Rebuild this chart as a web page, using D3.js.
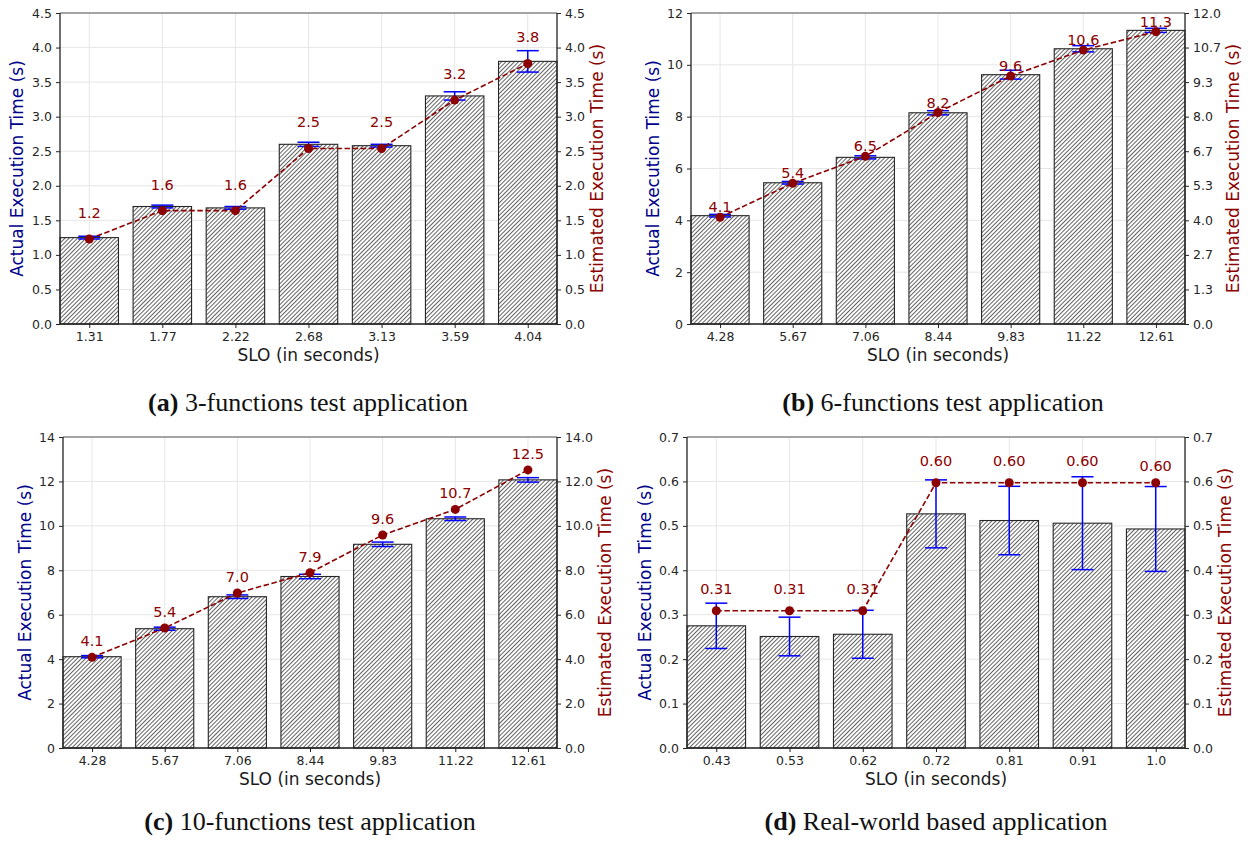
<!DOCTYPE html>
<html>
<head>
<meta charset="utf-8">
<script src="https://cdn.jsdelivr.net/npm/d3@7"></script>
<style>
  html, body { margin: 0; padding: 0; background: #fff; }
  svg { display: block; }
</style>
</head>
<body>
<svg id="fig" width="1250" height="845"></svg>
<script>
// ---- data: SLO categories, measured (actual) times with spread, estimated times ----
const sloA = ["1.31", "1.77", "2.22", "2.68", "3.13", "3.59", "4.04"];
const actualA = [1.25, 1.70, 1.68, 2.60, 2.58, 3.30, 3.80];
const errA = [0.02, 0.02, 0.02, 0.03, 0.02, 0.06, 0.155];
const estA = [1.23, 1.64, 1.64, 2.54, 2.54, 3.24, 3.77];

const sloB = ["4.28", "5.67", "7.06", "8.44", "9.83", "11.22", "12.61"];
const actualB = [4.18, 5.45, 6.43, 8.15, 9.62, 10.62, 11.33];
const errB = [0.05, 0.05, 0.06, 0.08, 0.17, 0.12, 0.08];
const estB = [4.12, 5.43, 6.47, 8.16, 9.57, 10.57, 11.28];

const sloC = ["4.28", "5.67", "7.06", "8.44", "9.83", "11.22", "12.61"];
const actualC = [4.11, 5.37, 6.81, 7.72, 9.17, 10.32, 12.07];
const errC = [0.05, 0.07, 0.08, 0.10, 0.10, 0.08, 0.10];
const estC = [4.08, 5.40, 6.98, 7.89, 9.59, 10.74, 12.52];

const sloD = ["0.43", "0.53", "0.62", "0.72", "0.81", "0.91", "1.0"];
const actualD = [0.275, 0.251, 0.256, 0.527, 0.512, 0.506, 0.493];
const errD = [0.051, 0.0435, 0.054, 0.0765, 0.077, 0.1045, 0.0955];
const estD = [0.309, 0.309, 0.309, 0.597, 0.597, 0.597, 0.597];

// tick values for both vertical axes
const leftTicksA = [0, 0.5, 1, 1.5, 2, 2.5, 3, 3.5, 4, 4.5];
const rightTicksA = [0, 0.5, 1, 1.5, 2, 2.5, 3, 3.5, 4, 4.5];
const leftTicksB = [0, 2, 4, 6, 8, 10, 12];
const rightTicksB = [0, 12 / 9, 24 / 9, 4, 48 / 9, 60 / 9, 8, 84 / 9, 96 / 9, 12];
const leftTicksC = [0, 2, 4, 6, 8, 10, 12, 14];
const rightTicksC = [0, 2, 4, 6, 8, 10, 12, 14];
const leftTicksD = [0, 0.1, 0.2, 0.3, 0.4, 0.5, 0.6, 0.7];
const rightTicksD = [0, 0.1, 0.2, 0.3, 0.4, 0.5, 0.6, 0.7];

const captionsText = [
  ["(a)", " 3-functions test application"],
  ["(b)", " 6-functions test application"],
  ["(c)", " 10-functions test application"],
  ["(d)", " Real-world based application"]
];

// ---- layout of the four panels ----
const panels = [
  { slo: sloA, actual: actualA, err: errA, est: estA, yMax: 4.5,
    lt: leftTicksA, lf: ".1f", rt: rightTicksA, rf: ".1f", vf: ".1f",
    left: 60, right: 557, top: 13, bottom: 324, lblL: 17, lblR: 597, lift: 21, cap: [308, 411], caption: captionsText[0] },
  { slo: sloB, actual: actualB, err: errB, est: estB, yMax: 12,
    lt: leftTicksB, lf: "d", rt: rightTicksB, rf: ".1f", vf: ".1f",
    left: 691, right: 1185, top: 13, bottom: 324, lblL: 653, lblR: 1233, lift: 5, cap: [943, 411], caption: captionsText[1] },
  { slo: sloC, actual: actualC, err: errC, est: estC, yMax: 14,
    lt: leftTicksC, lf: "d", rt: rightTicksC, rf: ".1f", vf: ".1f",
    left: 63, right: 557, top: 437, bottom: 748, lblL: 25, lblR: 605, lift: 11, cap: [310, 830], caption: captionsText[2] },
  { slo: sloD, actual: actualD, err: errD, est: estD, yMax: 0.7,
    lt: leftTicksD, lf: ".1f", rt: rightTicksD, rf: ".1f", vf: ".2f",
    left: 687, right: 1185, top: 437, bottom: 748, lblL: 645, lblR: 1225, lift: 17, liftLast: 12, cap: [936, 830], caption: captionsText[3] }
];

const svg = d3.select("#fig");
const FONT = "'DejaVu Sans', sans-serif";
const RED = "#8b0000";
const BLUE = "#0000ff";

// diagonal hatch used to fill the bars
const defs = svg.append("defs");
const hatch = defs.append("pattern")
  .attr("id", "hatch")
  .attr("patternUnits", "userSpaceOnUse")
  .attr("width", 2.97).attr("height", 8)
  .attr("patternTransform", "rotate(45)");
hatch.append("rect").attr("width", 2.97).attr("height", 8).attr("fill", "#fff");
hatch.append("line")
  .attr("x1", 0.5).attr("y1", 0).attr("x2", 0.5).attr("y2", 8)
  .attr("stroke", "#3c3c3c").attr("stroke-width", 0.8);

panels.forEach(p => {
  const g = svg.append("g");
  const n = p.slo.length;
  const x = d3.scaleLinear().domain([-0.4, n - 0.6]).range([p.left, p.right]);
  const y = d3.scaleLinear().domain([0, p.yMax]).range([p.bottom, p.top]);
  const idx = d3.range(n);
  const bw = x(0.8) - x(0);

  // grid
  g.append("g").selectAll("line.h").data(p.lt).join("line")
    .attr("x1", p.left).attr("x2", p.right)
    .attr("y1", d => y(d)).attr("y2", d => y(d))
    .attr("stroke", "#e6e6e6").attr("stroke-width", 1);
  g.append("g").selectAll("line.v").data(idx).join("line")
    .attr("x1", d => x(d)).attr("x2", d => x(d))
    .attr("y1", p.top).attr("y2", p.bottom)
    .attr("stroke", "#e6e6e6").attr("stroke-width", 1);

  // bars: actual execution time
  g.append("g").selectAll("rect").data(idx).join("rect")
    .attr("x", d => x(d) - bw / 2)
    .attr("y", d => y(p.actual[d]))
    .attr("width", bw)
    .attr("height", d => y(0) - y(p.actual[d]))
    .attr("fill", "url(#hatch)")
    .attr("stroke", "#262626").attr("stroke-width", 1.1);

  // error bars
  const eb = g.append("g").attr("stroke", BLUE).attr("stroke-width", 1.5);
  idx.forEach(i => {
    const lo = y(p.actual[i] - p.err[i]), hi = y(p.actual[i] + p.err[i]), cx = x(i);
    eb.append("line").attr("x1", cx).attr("x2", cx).attr("y1", lo).attr("y2", hi);
    eb.append("line").attr("x1", cx - 11).attr("x2", cx + 11).attr("y1", lo).attr("y2", lo);
    eb.append("line").attr("x1", cx - 11).attr("x2", cx + 11).attr("y1", hi).attr("y2", hi);
  });

  // estimated execution time: dashed line with markers
  const line = d3.line().x(d => x(d)).y(d => y(p.est[d]));
  g.append("path").datum(idx).attr("d", line)
    .attr("fill", "none").attr("stroke", RED)
    .attr("stroke-width", 1.6).attr("stroke-dasharray", "5.5,2.6");
  g.append("g").selectAll("circle").data(idx).join("circle")
    .attr("cx", d => x(d)).attr("cy", d => y(p.est[d])).attr("r", 4.5)
    .attr("fill", RED);
  const fmt = d3.format(p.vf);
  g.append("g").selectAll("text").data(idx).join("text")
    .attr("x", d => x(d))
    .attr("y", d => y(p.est[d]) - (d === n - 1 && p.liftLast ? p.liftLast : p.lift))
    .attr("text-anchor", "middle")
    .attr("font-family", FONT).attr("font-size", 14.5)
    .attr("fill", RED)
    .text(d => fmt(p.est[d]));

  // axes
  const xAxis = d3.axisBottom(x).tickValues(idx).tickFormat(d => p.slo[d]).tickSize(4).tickPadding(4);
  const gx = g.append("g").attr("transform", `translate(0,${p.bottom})`).call(xAxis);
  const yl = d3.axisLeft(y).tickValues(p.lt).tickFormat(d3.format(p.lf)).tickSize(4).tickPadding(4);
  const gyl = g.append("g").attr("transform", `translate(${p.left},0)`).call(yl);
  const yr = d3.axisRight(y).tickValues(p.rt).tickFormat(d3.format(p.rf)).tickSize(4).tickPadding(4);
  const gyr = g.append("g").attr("transform", `translate(${p.right},0)`).call(yr);
  [gx, gyl, gyr].forEach(a => {
    a.select(".domain").remove();
    a.selectAll(".tick line").attr("stroke", "#222").attr("stroke-width", 1);
    a.selectAll(".tick text").attr("font-family", FONT).attr("font-size", 12.5).attr("fill", "#262626");
  });

  // spines
  g.append("line").attr("x1", p.left).attr("x2", p.right).attr("y1", p.top).attr("y2", p.top)
    .attr("stroke", "#8a8a8a").attr("stroke-width", 1.6);
  g.append("line").attr("x1", p.left).attr("x2", p.right).attr("y1", p.bottom).attr("y2", p.bottom)
    .attr("stroke", "#222").attr("stroke-width", 1.3);
  g.append("line").attr("x1", p.left).attr("x2", p.left).attr("y1", p.top).attr("y2", p.bottom)
    .attr("stroke", "#222").attr("stroke-width", 1.3);
  g.append("line").attr("x1", p.right).attr("x2", p.right).attr("y1", p.top).attr("y2", p.bottom)
    .attr("stroke", "#222").attr("stroke-width", 1.3);

  // axis titles
  const midY = (p.top + p.bottom) / 2;
  g.append("text")
    .attr("x", (p.left + p.right) / 2).attr("y", p.bottom + 37)
    .attr("text-anchor", "middle").attr("font-family", FONT).attr("font-size", 17)
    .attr("fill", "#1a1a1a").text("SLO (in seconds)");
  g.append("text")
    .attr("transform", `translate(${p.lblL},${midY}) rotate(-90)`)
    .attr("text-anchor", "middle").attr("dominant-baseline", "central")
    .attr("font-family", FONT).attr("font-size", 17)
    .attr("fill", "#00008b").text("Actual Execution Time (s)");
  g.append("text")
    .attr("transform", `translate(${p.lblR},${midY}) rotate(-90)`)
    .attr("text-anchor", "middle").attr("dominant-baseline", "central")
    .attr("font-family", FONT).attr("font-size", 17)
    .attr("fill", RED).text("Estimated Execution Time (s)");

  // caption under the panel
  const cap = svg.append("text")
    .attr("x", p.cap[0]).attr("y", p.cap[1])
    .attr("text-anchor", "middle")
    .attr("font-family", "'Liberation Serif', 'Times New Roman', serif")
    .attr("font-size", 26).attr("fill", "#111");
  cap.append("tspan").attr("font-weight", "bold").text(p.caption[0]);
  cap.append("tspan").text(p.caption[1]);
});
</script>
</body>
</html>
